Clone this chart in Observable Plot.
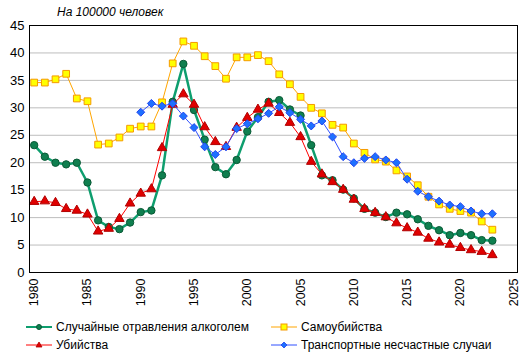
<!DOCTYPE html>
<html>
<head>
<meta charset="utf-8">
<script src="https://cdn.jsdelivr.net/npm/d3@7"></script>
<script src="https://cdn.jsdelivr.net/npm/@observablehq/plot@0.6"></script>
<style>
  html, body { margin: 0; padding: 0; background: #fff; }
  body { width: 532px; height: 362px; overflow: hidden; font-family: "Liberation Sans", Arial, sans-serif; }
  #wrap { position: relative; width: 532px; }
  #title { position: absolute; left: 57px; top: 5px; font-size: 12px; font-style: italic; color: #000; }
  #legend { position: relative; height: 52px; font-size: 12px; color: #000; }
  .item { position: absolute; display: flex; align-items: center; white-space: nowrap; }
  .item svg { margin-right: 4px; }
</style>
</head>
<body>
<div id="wrap">
  <div id="chart"></div>
  <div id="title">На 100000 человек</div>
  <div id="legend"></div>
</div>
<script>
const years = d3.range(1980, 2024);
const alcohol = [23.2, 21.1, 20.0, 19.7, 20.0, 16.4, 9.5, 8.3, 7.9, 9.1, 11.0, 11.3, 17.7, 31.1, 38.0, 29.6, 24.2, 19.2, 17.9, 20.5, 25.7, 28.3, 31.1, 31.4, 29.7, 28.6, 23.2, 17.7, 16.8, 15.1, 13.5, 11.6, 10.9, 10.1, 10.9, 10.6, 9.7, 8.5, 7.7, 6.8, 7.2, 6.8, 5.9, 5.8];
const suicide = [34.6, 34.6, 35.2, 36.2, 31.7, 31.2, 23.3, 23.5, 24.6, 26.2, 26.6, 26.6, 31.0, 38.1, 42.1, 41.3, 39.4, 37.6, 35.3, 39.2, 39.2, 39.6, 38.5, 36.1, 34.3, 32.0, 30.0, 29.0, 26.9, 26.4, 23.5, 21.8, 20.6, 20.2, 18.6, 17.5, 15.9, 13.8, 12.4, 11.6, 11.2, 10.9, 9.3, 7.8];
const homicide = [12.9, 13.0, 12.7, 11.6, 11.3, 10.6, 7.5, 8.0, 9.8, 12.6, 14.4, 15.2, 22.7, 30.6, 32.5, 30.6, 26.5, 23.8, 22.9, 26.4, 28.2, 29.7, 30.8, 29.1, 27.3, 24.7, 20.2, 17.9, 16.5, 15.1, 13.3, 11.6, 10.9, 10.1, 9.0, 8.1, 7.3, 6.2, 5.5, 5.1, 4.5, 4.1, 3.8, 3.2];
const transport = [null, null, null, null, null, null, null, null, null, null, 29.2, 30.8, 30.3, 30.8, 28.5, 26.4, 22.9, 21.5, 22.9, 26.2, 27.1, 28.0, 29.0, 30.2, 29.1, 27.9, 26.7, 27.6, 24.7, 21.1, 20.0, 20.8, 21.1, 20.5, 20.0, 17.0, 14.8, 13.8, 13.0, 12.3, 12.0, 11.2, 10.7, 10.7];
const seriesNames = ["Случайные отравления алкоголем", "Самоубийства", "Убийства", "Транспортные несчастные случаи"];
const yTicks = [0, 5, 10, 15, 20, 25, 30, 35, 40, 45];
const xTicks = [1980, 1985, 1990, 1995, 2000, 2005, 2010, 2015, 2020, 2025];

const styles = [
  {line: "#0E9E6E", width: 2.5, symbol: "circle", r: 3.7, fill: "#0F7F4F", stroke: "#0A5A36"},
  {line: "#FFA500", width: 1, symbol: "square", r: 3.8, fill: "#FFFF00", stroke: "#F59A00"},
  {line: "#FF0000", width: 1, symbol: "triangle", r: 3.5, fill: "#E00000", stroke: "#B00000"},
  {line: "#3050FF", width: 1, symbol: "diamond2", r: 3.6, fill: "#1E70FF", stroke: "#2244EE"}
];
const allValues = [alcohol, suicide, homicide, transport];

const marks = [
  Plot.ruleY(yTicks.filter(d => d > 0 && d < 45), {stroke: "#bdbdbd", strokeWidth: 1}),
];
allValues.forEach((vals, i) => {
  const data = years.map((y, j) => ({year: y, value: vals[j]})).filter(d => d.value != null);
  const s = styles[i];
  marks.push(Plot.line(data, {x: "year", y: "value", stroke: s.line, strokeWidth: s.width}));
  marks.push(Plot.dot(data, {x: "year", y: "value", symbol: () => s.symbol, r: s.r, fill: s.fill, stroke: s.stroke, strokeWidth: 1}));
});
marks.push(Plot.frame({stroke: "#000", strokeWidth: 1}));
marks.push(Plot.axisY({ticks: yTicks, tickSize: 0, tickPadding: 5, fontSize: 13, label: null, tickFormat: d => String(d)}));
marks.push(Plot.axisX({ticks: xTicks, tickSize: 0, tickPadding: 6, tickRotate: -90, fontSize: 12.5, label: null, tickFormat: d => String(d)}));

const chart = Plot.plot({
  width: 532,
  height: 310,
  marginTop: 25,
  marginBottom: 38,
  marginLeft: 29,
  marginRight: 15,
  style: {fontFamily: "'Liberation Sans', Arial, sans-serif", color: "#000", background: "#fff"},
  x: {domain: [1979.56, 2025.36], label: null},
  y: {domain: [0, 45], label: null},
  symbol: {type: "identity"},
  marks
});
document.getElementById("chart").appendChild(chart);

// legend
const legend = document.getElementById("legend");
const positions = [[26, 10], [271, 10], [26, 28], [271, 28]];
const glyphs = [
  '<circle cx="13" cy="5" r="2.5" fill="#0F7F4F" stroke="#0A5A36"/>',
  '<rect x="10" y="2" width="6" height="6" fill="#FFFF00" stroke="#F59A00"/>',
  '<path d="M13,2 L16,7 L10,7 Z" fill="#E00000" stroke="#B00000" stroke-width="0.8"/>',
  '<path d="M13,2 L16,5 L13,8 L10,5 Z" fill="#1E70FF" stroke="#2244EE" stroke-width="0.8"/>'
];
seriesNames.forEach((name, i) => {
  const s = styles[i];
  const div = document.createElement("div");
  div.className = "item";
  div.style.left = positions[i][0] + "px";
  div.style.top = positions[i][1] + "px";
  div.innerHTML = `<svg width="26" height="10"><line x1="0" y1="5" x2="26" y2="5" stroke="${s.line}" stroke-width="${s.width > 1 ? 2 : 1}"/>${glyphs[i]}</svg><span>${name}</span>`;
  legend.appendChild(div);
});
</script>
</body>
</html>
